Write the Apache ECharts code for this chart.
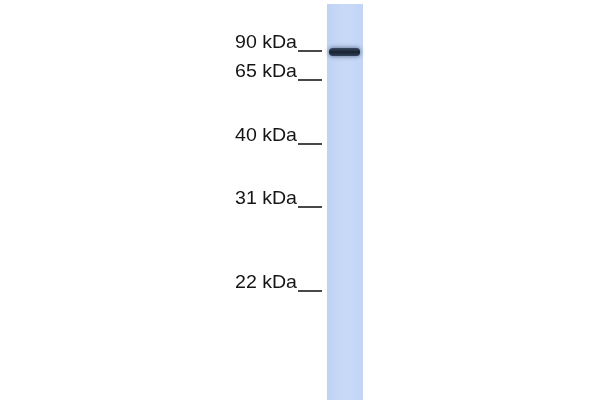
<!DOCTYPE html>
<html>
<head>
<meta charset="utf-8">
<script src="https://cdn.jsdelivr.net/npm/echarts@6/dist/echarts.min.js"></script>
<style>
html,body{margin:0;padding:0;background:#fff;}
#chart{width:600px;height:400px;}
</style>
</head>
<body>
<div id="chart"></div>
<script>
// Western blot data (migration = distance from top of image, px-equivalent units)
const laneNames = ['Lane 1'];
const laneRange = [4, 400];
const markerLabels = ['90 kDa', '65 kDa', '40 kDa', '31 kDa', '22 kDa'];
const markerMigration = [51, 80, 144, 207, 291];
const bandMigration = [52];
const bandIntensity = [1];

const chart = echarts.init(document.getElementById('chart'));

function laneItem(params, api) {
  const top = api.coord([api.value(0), api.value(1)]);
  const bot = api.coord([api.value(0), api.value(2)]);
  const w = api.size([1, 0])[0];
  return {
    type: 'rect',
    shape: { x: top[0] - w / 2, y: top[1], width: w, height: bot[1] - top[1] },
    style: {
      fill: new echarts.graphic.LinearGradient(0, 0, 1, 0, [
        { offset: 0, color: '#c0d2f4' },
        { offset: 0.5, color: '#c8d9f8' },
        { offset: 1, color: '#c3d5f6' }
      ])
    }
  };
}

function markerItem(params, api) {
  const p = api.coord([0, api.value(0)]);
  const w = api.size([1, 0])[0];
  const left = p[0] - w / 2;
  const label = markerLabels[params.dataIndex];
  return {
    type: 'group',
    children: [
      {
        type: 'line',
        shape: { x1: left - 29, y1: p[1], x2: left - 5, y2: p[1] },
        style: { stroke: '#1a1a1a', lineWidth: 1.6 }
      },
      {
        type: 'text',
        x: left - 30,
        y: p[1] + 1.5,
        scaleX: 1.03,
        style: {
          text: label,
          x: 0, y: 0,
          align: 'right',
          verticalAlign: 'bottom',
          font: '19px "Liberation Sans", Arial, sans-serif',
          fill: '#151515'
        }
      }
    ]
  };
}

function bandItem(params, api) {
  const p = api.coord([0, api.value(0)]);
  const w = api.size([1, 0])[0];
  const left = p[0] - w / 2;
  const h = 8;
  return {
    type: 'rect',
    shape: { x: left + 2, y: p[1] - h / 2, width: w - 5, height: h, r: [4.5, 3.5, 3.5, 4.5] },
    style: {
      fill: new echarts.graphic.LinearGradient(0, 0, 0, 1, [
        { offset: 0, color: '#3a4b64' },
        { offset: 0.5, color: '#18222f' },
        { offset: 1, color: '#33425a' }
      ]),
      opacity: api.value(1),
      shadowBlur: 5,
      shadowColor: 'rgba(40,58,90,0.75)'
    }
  };
}

chart.setOption({
  animation: false,
  backgroundColor: '#ffffff',
  grid: { left: 327, right: 237, top: 0, bottom: 0 },
  xAxis: { type: 'category', data: laneNames, show: false, boundaryGap: true },
  yAxis: { type: 'value', min: 0, max: 400, inverse: true, show: false },
  series: [
    {
      type: 'custom',
      renderItem: laneItem,
      clip: false,
      data: laneNames.map((n, i) => [i, laneRange[0], laneRange[1]]),
      encode: { x: 0, y: [1, 2] },
      silent: true
    },
    {
      type: 'custom',
      renderItem: bandItem,
      clip: false,
      data: bandMigration.map((m, i) => [m, bandIntensity[i]]),
      encode: { y: 0 },
      silent: true
    },
    {
      type: 'custom',
      renderItem: markerItem,
      clip: false,
      data: markerMigration.map(m => [m]),
      encode: { y: 0 },
      silent: true
    }
  ]
});
</script>
</body>
</html>
